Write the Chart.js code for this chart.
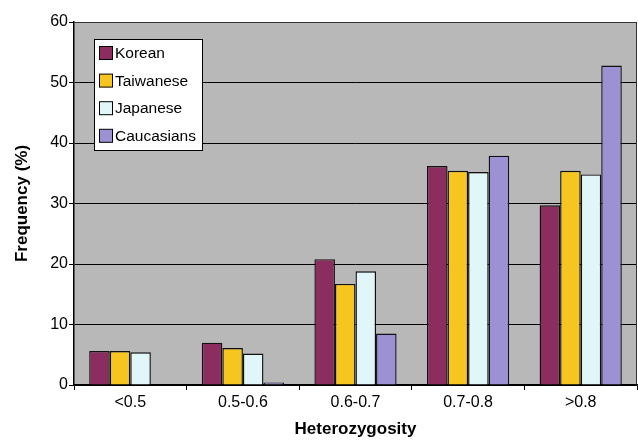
<!DOCTYPE html>
<html>
<head>
<meta charset="utf-8">
<script src="https://cdn.jsdelivr.net/npm/chart.js@4"></script>
<style>
  html, body { margin: 0; padding: 0; background: #fff; }
  #wrap { width: 638px; height: 440px; }
</style>
</head>
<body>
<div id="wrap"><canvas id="myChart" width="638" height="440"></canvas></div>
<script>
'use strict'

const categories = ['<0.5', '0.5-0.6', '0.6-0.7', '0.7-0.8', '>0.8'];
const korean = [5.6, 7.0, 20.8, 36.2, 29.7];
const taiwanese = [5.6, 6.1, 16.7, 35.4, 35.4];
const japanese = [5.4, 5.2, 18.8, 35.2, 34.8];
const caucasians = [null, 0.4, 8.5, 37.9, 52.8];
const yTicks = [0, 10, 20, 30, 40, 50, 60];

const fontFamily = '"Liberation Sans", Arial, sans-serif';

// grey plot background + thin frame
const plotBg = {
  id: 'plotBg',
  beforeDraw(chart) {
    const { ctx, chartArea: a } = chart;
    ctx.save();
    ctx.fillStyle = '#b8b8b8';
    ctx.fillRect(a.left, a.top, a.right - a.left, a.bottom - a.top);
    ctx.restore();
  },
  afterDatasetsDraw(chart) {
    const { ctx, chartArea: a } = chart;
    ctx.save();
    ctx.strokeStyle = '#333';
    ctx.lineWidth = 1;
    ctx.beginPath();
    ctx.moveTo(a.left, a.top + 0.5);
    ctx.lineTo(a.right - 0.5, a.top + 0.5);
    ctx.lineTo(a.right - 0.5, a.bottom);
    ctx.stroke();
    ctx.restore();
  }
};

// legend box drawn inside the plot, top-left
const boxLegend = {
  id: 'boxLegend',
  afterDraw(chart) {
    const { ctx, chartArea: a } = chart;
    const x = a.left + 20, y = a.top + 17, w = 108, h = 111;
    ctx.save();
    ctx.fillStyle = '#fff';
    ctx.fillRect(x, y, w, h);
    ctx.strokeStyle = '#000';
    ctx.lineWidth = 1;
    ctx.strokeRect(x + 0.5, y + 0.5, w, h);
    ctx.font = '15.5px ' + fontFamily;
    ctx.textBaseline = 'middle';
    chart.data.datasets.forEach((ds, i) => {
      const cy = y + 14 + i * 27.6;
      ctx.fillStyle = ds.backgroundColor;
      ctx.fillRect(x + 5.5, cy - 6.5, 13, 13);
      ctx.strokeStyle = '#000';
      ctx.strokeRect(x + 5.5, cy - 6.5, 13, 13);
      ctx.fillStyle = '#000';
      ctx.fillText(ds.label, x + 21, cy + 1);
    });
    ctx.restore();
  }
};

const ctx = document.querySelector('#myChart');

new Chart(ctx, {
  type: 'bar',
  data: {
    labels: categories,
    datasets: [
      { label: 'Korean', data: korean, backgroundColor: '#8b2d5e' },
      { label: 'Taiwanese', data: taiwanese, backgroundColor: '#f6c51f' },
      { label: 'Japanese', data: japanese, backgroundColor: '#e0f6f8' },
      { label: 'Caucasians', data: caucasians, backgroundColor: '#9c91d3' }
    ]
  },
  options: {
    responsive: false,
    animation: false,
    layout: { padding: { top: 22, right: 1, left: 0, bottom: 0 } },
    datasets: {
      bar: {
        borderColor: '#111',
        borderWidth: 1.4,
        categoryPercentage: 0.73,
        barPercentage: 1
      }
    },
    scales: {
      x: {
        afterFit: (scale) => { scale.height = 55; },
        grid: {
          offset: true,
          drawOnChartArea: false,
          drawTicks: true,
          tickLength: 5,
          color: '#000'
        },
        border: { color: '#000', width: 1.5 },
        ticks: {
          color: '#000',
          padding: 3,
          font: { family: fontFamily, size: 16 }
        },
        title: {
          display: true,
          text: 'Heterozygosity',
          color: '#000',
          padding: { top: 2, bottom: 0 },
          font: { family: fontFamily, size: 17, weight: 'bold' }
        }
      },
      y: {
        min: 0,
        max: 60,
        afterFit: (scale) => { scale.width = 74; },
        afterBuildTicks: (scale) => { scale.ticks = yTicks.map(v => ({ value: v })); },
        grid: {
          color: '#000',
          lineWidth: 1,
          tickLength: 5
        },
        border: { color: '#000', width: 1.5 },
        ticks: {
          color: '#000',
          padding: 1,
          font: { family: fontFamily, size: 16 }
        },
        title: {
          display: true,
          text: 'Frequency (%)',
          color: '#000',
          padding: { top: 12, bottom: 0 },
          font: { family: fontFamily, size: 17, weight: 'bold' }
        }
      }
    },
    plugins: {
      legend: false,
      tooltip: { enabled: false }
    }
  },
  plugins: [plotBg, boxLegend]
});
</script>
</body>
</html>
